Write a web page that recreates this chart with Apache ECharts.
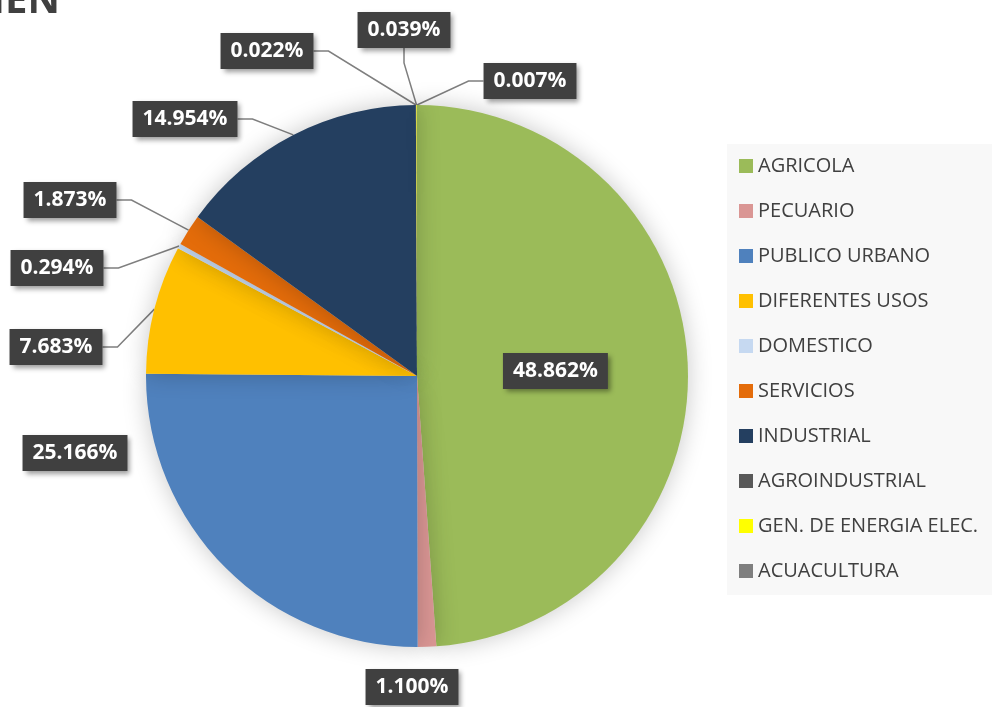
<!DOCTYPE html>
<html>
<head>
<meta charset="utf-8">
<script src="https://cdn.jsdelivr.net/npm/echarts@6/dist/echarts.min.js"></script>
<style>
  html, body { margin: 0; padding: 0; background: #fff; }
  #chart { width: 996px; height: 707px; }
</style>
</head>
<body>
<div id="chart"></div>
<script>
// uses / share of volume (%)
const categories = ['AGRICOLA', 'PECUARIO', 'PUBLICO URBANO', 'DIFERENTES USOS', 'DOMESTICO',
  'SERVICIOS', 'INDUSTRIAL', 'AGROINDUSTRIAL', 'GEN. DE ENERGIA ELEC.', 'ACUACULTURA']
const shares = [48.862, 1.100, 25.166, 7.683, 0.294, 1.873, 14.954, 0.022, 0.039, 0.007]
const colors = ['#9bbb59', '#da9694', '#4f81bd', '#ffc000', '#c6d9f1',
  '#e46c0a', '#243f60', '#595959', '#ffff00', '#7f7f7f']

// where Excel put the outside labels (box centres), index 0 stays inside
const labelSpots = [null, [412, 687], [75, 453], [56, 347], [57, 268],
  [70, 200], [185, 119], [267, 51], [404, 30], [530, 81]]
// labels that sit next to their slice with no leader line
const noLine = [0, 1, 2]

const chart = echarts.init(document.getElementById('chart'))

const data = categories.map((name, i) => ({
  name,
  value: shares[i],
  itemStyle: { color: colors[i] },
  label: i === 0 ? { position: 'inside' } : undefined,
  labelLine: noLine.includes(i) ? { show: false } : undefined
}))

chart.setOption({
  animation: false,
  title: {
    text: 'VOLUMEN',
    right: 936,
    top: -18,
    padding: 0,
    textStyle: { fontFamily: 'Open Sans', fontWeight: 'bold', fontSize: 40, color: '#404040' }
  },
  legend: {
    orient: 'vertical',
    left: 727,
    top: 144,
    padding: [12, 14, 14, 12],
    backgroundColor: '#f8f8f8',
    itemWidth: 14,
    itemHeight: 14,
    itemGap: 25,
    icon: 'rect',
    textStyle: { fontFamily: 'Open Sans', fontSize: 20, color: '#404040', lineHeight: 20 },
    data: categories
  },
  series: [{
    type: 'pie',
    center: [417, 376],
    radius: 271,
    startAngle: 90,
    clockwise: true,
    avoidLabelOverlap: false,
    itemStyle: {
      borderWidth: 0,
      shadowBlur: 25,
      shadowColor: 'rgba(0,0,0,0.22)'
    },
    label: {
      show: true,
      formatter: p => p.value.toFixed(3) + '%',
      fontFamily: 'Open Sans',
      fontWeight: 'bold',
      fontSize: 21,
      color: '#fff',
      backgroundColor: '#404040',
      padding: [8, 10, 7, 10],
      shadowColor: 'rgba(0,0,0,0.4)',
      shadowBlur: 5,
      shadowOffsetX: 3,
      shadowOffsetY: 3
    },
    labelLine: {
      show: true,
      length: 15,
      length2: 15,
      lineStyle: { color: '#7f7f7f', width: 1.5 }
    },
    labelLayout: p => {
      const spot = labelSpots[p.dataIndex]
      if (!spot) return {}
      return { x: spot[0], y: spot[1], align: 'center', verticalAlign: 'middle' }
    },
    data
  }]
})
</script>
</body>
</html>
